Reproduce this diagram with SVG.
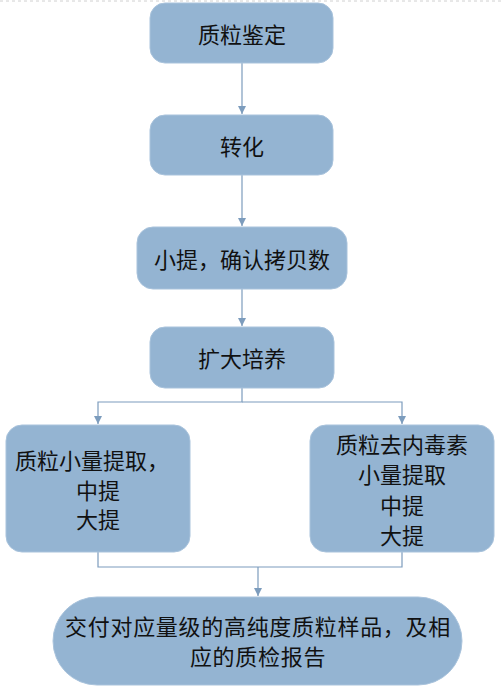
<svg xmlns="http://www.w3.org/2000/svg" width="504" height="696" viewBox="0 0 504 696">
<defs>
<style>
.box{fill:#94b4d2;stroke:#a9c3dc;stroke-width:1}
.t{font-family:"Noto Sans CJK SC","Noto Sans CJK JP",sans-serif;font-size:22px;fill:#111111;text-anchor:middle;dominant-baseline:central}
.c{fill:none;stroke:#7c9cbd;stroke-width:1.2}
</style>
<marker id="a" viewBox="0 0 10 10" refX="10" refY="5" markerWidth="8" markerHeight="8" markerUnits="userSpaceOnUse" orient="auto">
<path d="M0,0 L10,5 L0,10 z" fill="#7c9cbd"/>
</marker>
</defs>
<rect width="504" height="696" fill="#ffffff"/>
<line x1="0" y1="1" x2="504" y2="1" stroke="#d0d0d0" stroke-width="1" stroke-dasharray="3,3"/>
<g id="connectors">
<line class="c" x1="242" y1="63" x2="242" y2="114" marker-end="url(#a)"/>
<line class="c" x1="242" y1="175" x2="242" y2="226" marker-end="url(#a)"/>
<line class="c" x1="242" y1="289" x2="242" y2="326" marker-end="url(#a)"/>
<polyline class="c" points="242,388 242,402 98,402 98,424" marker-end="url(#a)"/>
<polyline class="c" points="242,402 402,402 402,424" marker-end="url(#a)"/>
<polyline class="c" points="98,552 98,567 402,567 402,552"/>
<line class="c" x1="258" y1="567" x2="258" y2="596" marker-end="url(#a)"/>
</g>
<g id="n1">
<rect class="box" x="150" y="3" width="183" height="60" rx="15"/>
<text class="t" x="242" y="33">质粒鉴定</text>
</g>
<g id="n2">
<rect class="box" x="150" y="115" width="183" height="60" rx="15"/>
<text class="t" x="242" y="145">转化</text>
</g>
<g id="n3">
<rect class="box" x="137" y="227" width="210" height="62" rx="16"/>
<text class="t" x="242" y="258">小提，确认拷贝数</text>
</g>
<g id="n4">
<rect class="box" x="150" y="327" width="184" height="61" rx="15"/>
<text class="t" x="242" y="357">扩大培养</text>
</g>
<g id="n5">
<rect class="box" x="6" y="425" width="184" height="127" rx="16"/>
<text class="t" x="92" y="459">质粒小量提取，</text>
<text class="t" x="98" y="489">中提</text>
<text class="t" x="98" y="518">大提</text>
</g>
<g id="n6">
<rect class="box" x="310" y="425" width="184" height="127" rx="16"/>
<text class="t" x="402" y="443">质粒去内毒素</text>
<text class="t" x="402" y="473">小量提取</text>
<text class="t" x="402" y="504">中提</text>
<text class="t" x="402" y="534">大提</text>
</g>
<g id="n7">
<rect class="box" x="53" y="597" width="409" height="88" rx="44"/>
<text class="t" x="258" y="625" letter-spacing="0.7">交付对应量级的高纯度质粒样品，及相</text>
<text class="t" x="258" y="655" letter-spacing="0.7">应的质检报告</text>
</g>
</svg>
